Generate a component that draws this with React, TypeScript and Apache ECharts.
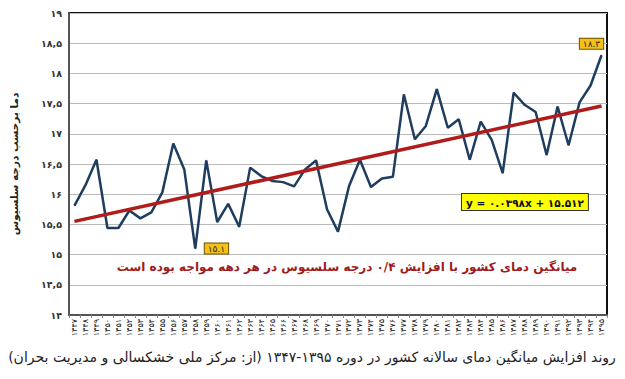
import React, { useEffect, useRef } from "react";
import * as echarts from "echarts";

const years = [
  1347, 1348, 1349, 1350, 1351, 1352, 1353, 1354, 1355, 1356, 1357, 1358, 1359,
  1360, 1361, 1362, 1363, 1364, 1365, 1366, 1367, 1368, 1369, 1370, 1371, 1372,
  1373, 1374, 1375, 1376, 1377, 1378, 1379, 1380, 1381, 1382, 1383, 1384, 1385,
  1386, 1387, 1388, 1389, 1390, 1391, 1392, 1393, 1394, 1395,
];

const temps = [
  15.81, 16.15, 16.57, 15.44, 15.44, 15.73, 15.6, 15.7, 16.03, 16.84, 16.41,
  15.1, 16.56, 15.54, 15.84, 15.46, 16.44, 16.3, 16.22, 16.2, 16.13, 16.41,
  16.56, 15.75, 15.38, 16.13, 16.57, 16.12, 16.26, 16.29, 17.65, 16.91, 17.13,
  17.74, 17.1, 17.24, 16.57, 17.2, 16.9, 16.35, 17.68, 17.48, 17.36, 16.65,
  17.45, 16.81, 17.52, 17.8, 18.3,
];

// regression line end values (y = 0.0398x + 15.512 at x = 1 and x = 49)
const trendEnds = [15.55, 17.46];

const yTicks = [14, 14.5, 15, 15.5, 16, 16.5, 17, 17.5, 18, 18.5, 19];

const FA = "۰۱۲۳۴۵۶۷۸۹";
const fa = (s: string) => s.replace(/\d/g, (d) => FA[+d]);

const RLE = "\u202B";
const PDF = "\u202C";
const PFONT = "'DejaVu Sans', 'Noto Sans', sans-serif";

export default function App() {
  const ref = useRef<HTMLDivElement>(null);

  useEffect(() => {
    document.body.style.margin = "0";
    if (!ref.current) return;
    const chart = echarts.init(ref.current, undefined, { renderer: "svg" });
    const cats = years.map((y) => fa(String(y)));
    const minIdx = temps.indexOf(Math.min(...temps));
    const maxIdx = temps.indexOf(Math.max(...temps));
    const boxLabel = {
      show: true,
      backgroundColor: "#f5c01a",
      borderColor: "#6b5200",
      borderWidth: 1,
      padding: [1, 3, 0, 3],
      fontSize: 9,
      color: "#222",
      fontFamily: PFONT,
      formatter: (p: any) => fa(String(p.value)),
    };
    const data = temps.map((v, i) => {
      if (i === minIdx)
        return { value: v, label: { ...boxLabel, position: "right", distance: 9 } };
      if (i === maxIdx)
        return { value: v, label: { ...boxLabel, position: "top", distance: 6, offset: [-10, 0] } };
      return v;
    });

    chart.setOption({
      animation: false,
      grid: {
        left: 68,
        right: 18,
        top: 13,
        bottom: 64,
        show: true,
        borderColor: "#111",
        borderWidth: 2,
        backgroundColor: "#fff",
      },
      xAxis: {
        type: "category",
        data: cats,
        boundaryGap: true,
        axisLine: { lineStyle: { color: "#555", width: 2 } },
        axisTick: { show: true, interval: 0, length: 3, lineStyle: { color: "#888" } },
        axisLabel: {
          interval: 0,
          rotate: 90,
          fontSize: 8,
          color: "#222",
          fontFamily: PFONT,
          margin: 4,
        },
      },
      yAxis: {
        type: "value",
        min: 14,
        max: 19,
        interval: 0.5,
        name: RLE + "دما برحسب درجه سلسیوس" + PDF,
        nameLocation: "middle",
        nameGap: 50,
        nameRotate: 90,
        nameTextStyle: { fontSize: 10.5, fontWeight: "bold", color: "#222", fontFamily: PFONT },
        axisLine: { show: true, lineStyle: { color: "#555", width: 2 } },
        axisTick: { show: false },
        splitLine: { lineStyle: { color: "#bbb", width: 1 } },
        axisLabel: {
          fontSize: 9.5,
          fontWeight: "bold",
          color: "#333",
          fontFamily: PFONT,
          margin: 7,
          formatter: (v: number) =>
            yTicks.includes(v) ? fa(String(v).replace(".", ",")) : "",
        },
      },
      series: [
        {
          type: "line",
          data,
          symbol: "circle",
          symbolSize: 1,
          showSymbol: true,
          itemStyle: { color: "#1f3d5e" },
          lineStyle: { color: "#1f3d5e", width: 2.5 },
          z: 2,
        },
        {
          type: "line",
          data: [
            [cats[0], trendEnds[0]],
            [cats[cats.length - 1], trendEnds[1]],
          ],
          symbol: "none",
          lineStyle: { color: "#b01c1c", width: 3.5 },
          z: 3,
        },
      ],
      graphic: [
        {
          type: "text",
          left: 461,
          top: 193,
          z: 10,
          style: {
            text: "y = " + fa("0.0398") + "x + " + fa("15.512"),
            fontSize: 10.5,
            fontWeight: "bold",
            fontFamily: PFONT,
            fill: "#111",
            backgroundColor: "#ffff00",
            borderColor: "#333",
            borderWidth: 1,
            padding: [3, 4, 2, 4],
          },
        },
        {
          type: "text",
          x: 347,
          y: 267,
          z: 10,
          style: {
            text:
              RLE +
              "میانگین دمای کشور با افزایش " +
              fa("0") + "/" + fa("4") +
              " درجه سلسیوس در هر دهه مواجه بوده است" +
              PDF,
            fontSize: 12,
            fontWeight: "bold",
            fontFamily: PFONT,
            fill: "#9e1b1b",
            align: "center",
            verticalAlign: "middle",
          },
        },
        {
          type: "text",
          x: 312,
          y: 357,
          z: 10,
          style: {
            text:
              RLE +
              "روند افزایش میانگین دمای سالانه کشور در دوره " +
              fa("1395") + "-" + fa("1347") +
              " (از: مرکز ملی خشکسالی و مدیریت بحران)" +
              PDF,
            fontSize: 14,
            fontFamily: PFONT,
            fill: "#222",
            align: "center",
            verticalAlign: "middle",
          },
        },
      ],
    });
    return () => chart.dispose();
  }, []);

  return <div ref={ref} style={{ width: 625, height: 379 }} />;
}
